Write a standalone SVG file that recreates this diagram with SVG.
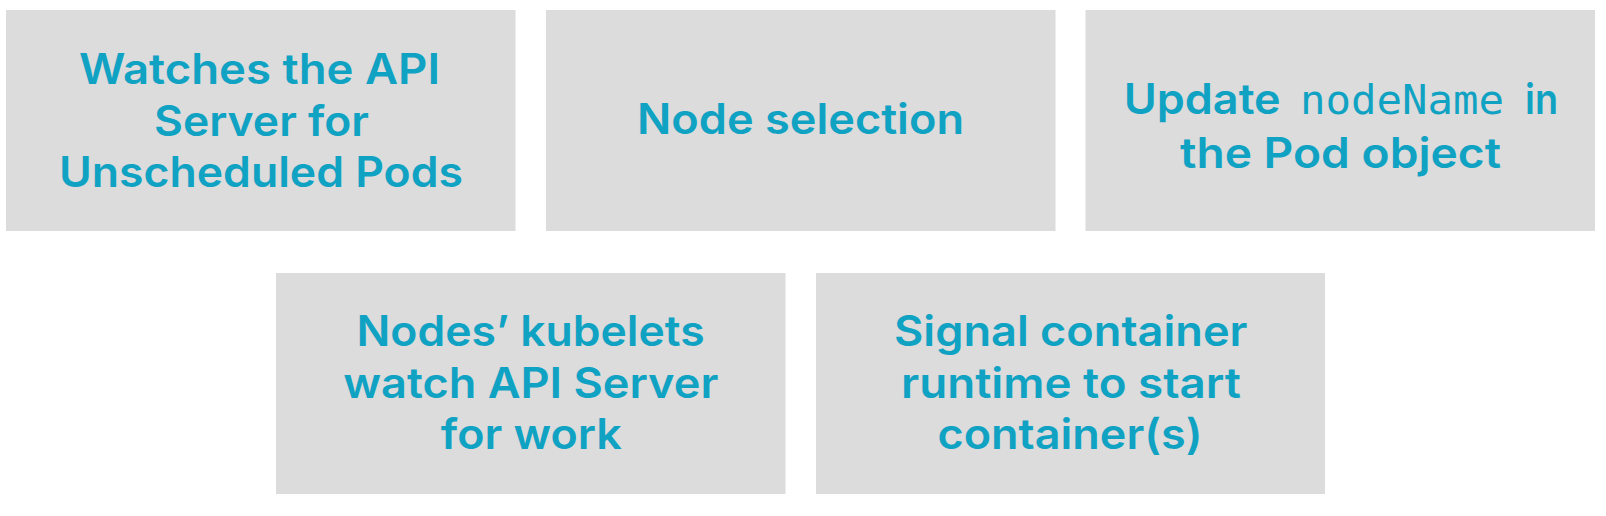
<svg xmlns="http://www.w3.org/2000/svg" width="1606" height="516" viewBox="0 0 1606 516">
<style>
.box{fill:#dcdcdc;}
.t{font-family:Inter,"Liberation Sans",sans-serif;font-weight:600;font-size:42px;fill:#10a2c3;}
.m{font-family:"DejaVu Sans Mono","Liberation Mono",monospace;font-weight:400;font-size:40px;fill:#10a2c3;}
</style>
<rect width="1606" height="516" fill="#ffffff"/>
<g id="node-watch">
<rect class="box" x="6" y="10" width="509.5" height="221"/>
<text class="t" x="79" y="84" textLength="361" lengthAdjust="spacingAndGlyphs">Watches the API</text>
<text class="t" x="154" y="135.5" textLength="215" lengthAdjust="spacingAndGlyphs">Server for</text>
<text class="t" x="59" y="186.5" textLength="404" lengthAdjust="spacingAndGlyphs">Unscheduled Pods</text>
</g>
<g id="node-selection">
<rect class="box" x="546" y="10" width="509.5" height="221"/>
<text class="t" x="637" y="134" textLength="327" lengthAdjust="spacingAndGlyphs">Node selection</text>
</g>
<g id="node-update">
<rect class="box" x="1085.5" y="10" width="509.5" height="221"/>
<text class="t" x="1123.7" y="113.5" textLength="157" lengthAdjust="spacingAndGlyphs">Update</text>
<text class="m" x="1300" y="113.5" textLength="204" lengthAdjust="spacingAndGlyphs">nodeName</text>
<text class="t" x="1525" y="113.5" textLength="33" lengthAdjust="spacingAndGlyphs">in</text>
<text class="t" x="1180" y="167.5" textLength="321" lengthAdjust="spacingAndGlyphs">the Pod object</text>
</g>
<g id="node-kubelets">
<rect class="box" x="276" y="273" width="509.5" height="221"/>
<text class="t" x="356.6" y="345.7" textLength="348" lengthAdjust="spacingAndGlyphs">Nodes’ kubelets</text>
<text class="t" x="343.3" y="397.7" textLength="375" lengthAdjust="spacingAndGlyphs">watch API Server</text>
<text class="t" x="440.8" y="449" textLength="181" lengthAdjust="spacingAndGlyphs">for work</text>
</g>
<g id="node-signal">
<rect class="box" x="816" y="273" width="509" height="221"/>
<text class="t" x="894" y="345.7" textLength="353.5" lengthAdjust="spacingAndGlyphs">Signal container</text>
<text class="t" x="901" y="397.7" textLength="340" lengthAdjust="spacingAndGlyphs">runtime to start</text>
<text class="t" x="937.5" y="449" textLength="265" lengthAdjust="spacingAndGlyphs">container(s)</text>
</g>
<g id="connectors"></g>
</svg>
